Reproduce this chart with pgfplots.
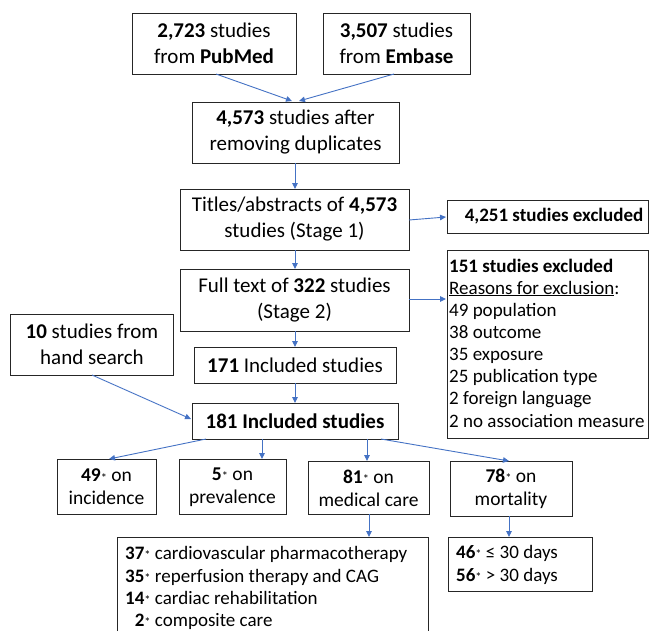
\documentclass[border=0pt]{standalone}
\usepackage{pgfplots}
\pgfplotsset{compat=1.18}
\usepackage{fontspec}
\setmainfont{Carlito}
\usetikzlibrary{arrows.meta}
\definecolor{arrblue}{HTML}{4472C4}
\newcommand\fbig{\fontsize{21bp}{26bp}\selectfont}
\newcommand\fmid{\fontsize{19.5bp}{23bp}\selectfont}
\newcommand\fsml{\fontsize{19bp}{22bp}\selectfont}
\newcommand\st{\raisebox{-0.02em}{\fontsize{12.5bp}{12bp}\selectfont *}}
\tikzset{
    boxline/.style={draw=black!85, line width=0.9bp},
    arr/.style={arrblue, line width=0.9bp, -{Triangle[length=6bp,width=5.5bp]}},
}
\begin{document}
\begin{tikzpicture}
\begin{axis}[
    width=649bp, height=631bp, scale only axis,
    xmin=0, xmax=649, ymin=0, ymax=631, y dir=reverse,
    hide axis, clip=false,
]
\path (axis cs:0,0) rectangle (axis cs:649,631);

% boxes (image pixel coordinates, y down)
\draw[boxline] (axis cs:132,13) rectangle (axis cs:296,74);
\draw[boxline] (axis cs:323,13) rectangle (axis cs:470,74);
\draw[boxline] (axis cs:192,102) rectangle (axis cs:399,163);
\draw[boxline] (axis cs:180,189) rectangle (axis cs:409,250);
\draw[boxline] (axis cs:447,200) rectangle (axis cs:648,233);
\draw[boxline] (axis cs:180,269) rectangle (axis cs:409,331);
\draw[boxline] (axis cs:447,250) rectangle (axis cs:648,438);
\draw[boxline] (axis cs:10,314) rectangle (axis cs:173,375);
\draw[boxline] (axis cs:194,347) rectangle (axis cs:396,383);
\draw[boxline] (axis cs:192,403) rectangle (axis cs:398,439);
\draw[boxline] (axis cs:57,459) rectangle (axis cs:156,514);
\draw[boxline] (axis cs:179,459) rectangle (axis cs:286,514);
\draw[boxline] (axis cs:308,461) rectangle (axis cs:429,514);
\draw[boxline] (axis cs:450,461) rectangle (axis cs:572,516);
\draw[boxline] (axis cs:117,631) -- (axis cs:117,537) -- (axis cs:428,537) -- (axis cs:428,631);
\draw[boxline] (axis cs:448,537) rectangle (axis cs:592,591);

% arrows
\addplot[arr] coordinates {(216,74) (292,101)};
\addplot[arr] coordinates {(394,74) (299,101)};
\addplot[arr] coordinates {(295,163) (295,189)};
\addplot[arr] coordinates {(409,220) (446,217)};
\addplot[arr] coordinates {(295,250) (295,269)};
\addplot[arr] coordinates {(409,299) (446,299)};
\addplot[arr] coordinates {(295,331) (295,347)};
\addplot[arr] coordinates {(295,383) (295,403)};
\addplot[arr] coordinates {(92,375) (191,419)};
\addplot[arr] coordinates {(206,439) (109,459)};
\addplot[arr] coordinates {(262,439) (262,459)};
\addplot[arr] coordinates {(367,439) (367,461)};
\addplot[arr] coordinates {(381,439) (509,461)};
\addplot[arr] coordinates {(369,514) (369,537)};
\addplot[arr] coordinates {(509,516) (509,537)};

% centred texts
\node[align=center, font=\fbig, inner sep=0] at (axis cs:214,43.5) {\textbf{2,723} studies\\from \textbf{PubMed}};
\node[align=center, font=\fbig, inner sep=0] at (axis cs:396.5,43.5) {\textbf{3,507} studies\\from \textbf{Embase}};
\node[align=center, font=\fbig, inner sep=0] at (axis cs:295.5,132.5) {\textbf{4,573} studies after\\removing duplicates};
\node[align=center, font=\fbig, inner sep=0] at (axis cs:294.5,219.5) {Titles/abstracts of \textbf{4,573}\\studies (Stage 1)};
\node[font=\fsml, inner sep=0] at (axis cs:554,216.5) {\textbf{4,251 studies excluded}};
\node[align=center, font=\fbig, inner sep=0] at (axis cs:294.5,300) {Full text of \textbf{322} studies\\(Stage 2)};
\node[align=center, font=\fbig, inner sep=0] at (axis cs:92,344.5) {\textbf{10} studies from\\hand search};
\node[font=\fbig, inner sep=0] at (axis cs:295,365) {\textbf{171} Included studies};
\node[font=\fbig, inner sep=0] at (axis cs:295,421) {\textbf{181 Included studies}};
\node[align=center, font=\fmid, inner sep=0] at (axis cs:106.5,487) {\textbf{49}\st{} on\\incidence};
\node[align=center, font=\fmid, inner sep=0] at (axis cs:232.5,487) {\textbf{5}\st{} on\\prevalence};
\node[align=center, font=\fmid, inner sep=0] at (axis cs:368.5,488) {\textbf{81}\st{} on\\medical care};
\node[align=center, font=\fmid, inner sep=0] at (axis cs:511,488.5) {\textbf{78}\st{} on\\mortality};

% left aligned lists
\node[anchor=base west, font=\fsml, inner sep=0] at (axis cs:449,272) {\textbf{151 studies excluded}};
\node[anchor=base west, font=\fsml, inner sep=0] at (axis cs:449,294) {\underline{Reasons for exclusion}:};
\node[anchor=base west, font=\fsml, inner sep=0] at (axis cs:449,316) {49 population};
\node[anchor=base west, font=\fsml, inner sep=0] at (axis cs:449,338) {38 outcome};
\node[anchor=base west, font=\fsml, inner sep=0] at (axis cs:449,360) {35 exposure};
\node[anchor=base west, font=\fsml, inner sep=0] at (axis cs:449,382) {25 publication type};
\node[anchor=base west, font=\fsml, inner sep=0] at (axis cs:449,404) {2 foreign language};
\node[anchor=base west, font=\fsml, inner sep=0] at (axis cs:449,427) {2 no association measure};

\node[anchor=base west, font=\fsml, inner sep=0] at (axis cs:125,559) {\textbf{37}\st{} cardiovascular pharmacotherapy};
\node[anchor=base west, font=\fsml, inner sep=0] at (axis cs:125,582) {\textbf{35}\st{} reperfusion therapy and CAG};
\node[anchor=base west, font=\fsml, inner sep=0] at (axis cs:125,604) {\textbf{14}\st{} cardiac rehabilitation};
\node[anchor=base west, font=\fsml, inner sep=0] at (axis cs:125,626) {\phantom{\textbf{1}}\textbf{2}\st{} composite care};

\node[anchor=base west, font=\fsml, inner sep=0] at (axis cs:456,558) {\textbf{46}\st{} ≤ 30 days};
\node[anchor=base west, font=\fsml, inner sep=0] at (axis cs:456,581) {\textbf{56}\st{} > 30 days};
\end{axis}
\end{tikzpicture}
\end{document}
